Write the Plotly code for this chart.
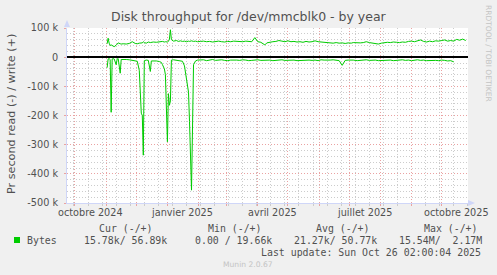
import pandas as pd
import plotly.graph_objects as go

# ---------------- data (daily averages, values in kB/s) ----------------
DAY0 = "2024-11-01"
days = [1, 2, 3, 4, 5, 6, 7, 8, 10, 11, 12, 14, 15, 17, 20, 23, 26, 29, 31, 33,
        35, 36, 37, 38, 40, 42, 44, 45, 47, 50, 53, 55, 56, 58, 59, 61, 62, 63, 64, 65,
        67, 70, 72, 74, 76, 78, 80, 82, 83, 85, 87, 89, 91,
        94, 97, 100, 103, 106, 109, 112, 115, 118, 121, 124, 127, 130, 133, 136, 139, 142, 145,
        148, 151, 154, 158,
        160, 163, 166, 169, 172, 175, 178, 181, 184, 187, 190, 193, 196, 199, 202, 205, 208,
        211, 214, 217, 220, 223, 226, 229, 232, 235, 238, 241, 244,
        246,
        250, 253, 256, 259, 262, 265, 268, 271, 274, 277, 280, 283, 286, 289, 292, 295, 298,
        301, 304, 307, 310, 313, 316, 319, 322, 325, 328, 331, 334, 337, 340, 343, 346, 349,
        352, 355, 358]

write_k = [46, 65, 48, 40, 42, 39, 37, 36, 41, 44, 49, 46, 45, 46, 45, 47, 53, 47, 46, 48,
           47, 49, 53, 50, 48, 52, 50, 51, 52, 51, 53, 52, 54, 52, 53, 52, 54, 62, 94, 60,
           55, 57, 54, 56, 54, 55, 53, 55, 54, 56, 54, 55, 53,
           54, 55, 53, 54, 52, 54, 55, 53, 52, 54, 53, 55, 54, 52, 53, 55, 54, 53,
           67, 53, 51, 42,
           49, 52, 53, 54, 57, 55, 53, 56, 53, 54, 52, 53, 51, 54, 52, 53, 56,
           53, 52, 50, 51, 49, 48, 50, 48, 49, 47, 49, 48,
           50,
           48, 49, 50, 53, 50, 48, 47, 45, 48, 50, 51, 50, 52, 51, 50, 52, 51,
           54, 55, 53, 56, 59, 54, 52, 55, 53, 56, 55, 57, 59, 55, 57, 55, 61,
           58, 62, 57]

read_k = [36, 6, 5, 8, 189, 6, 5, 6, 26, 6, 5, 55, 8, 7, 8, 9, 10, 13, 14, 45,
          192, 200, 336, 12, 10, 11, 49, 13, 12, 13, 15, 18, 25, 40, 60, 290, 125, 165, 150, 10,
          9, 11, 12, 13, 14, 30, 70, 120, 220, 456, 26, 13, 10,
          10, 9, 12, 10, 8, 11, 10, 9, 11, 12, 10, 9, 10, 11, 9, 10, 12, 11,
          10, 9, 11, 10,
          9, 10, 12, 11, 10, 9, 11, 10, 9, 10, 12, 11, 10,
          9, 10, 11, 10, 12, 9, 10, 11, 10, 9, 11, 12,
          28,
          11, 10, 9, 10, 12, 11, 10, 9, 11, 10, 10, 12, 11, 10, 9, 10, 12,
          11, 10, 9, 11, 10, 12, 10, 9, 11, 10, 12, 11, 10, 11, 12, 10, 11,
          13, 12, 16]

y_ticks = [100000, 0, -100000, -200000, -300000, -400000, -500000]
y_tick_text = ["100 k", "0", "-100 k", "-200 k", "-300 k", "-400 k", "-500 k"]
x_label_dates = ["2024-10-16", "2025-01-16", "2025-04-16", "2025-07-16", "2025-10-16"]
x_label_text = ["octobre 2024", "janvier 2025", "avril 2025", "juillet 2025", "octobre 2025"]

title = "Disk throughput for /dev/mmcblk0 - by year"
y_title = "Pr second read (-) / write (+)"
legend_headers = ["Cur (-/+)", "Min (-/+)", "Avg (-/+)", "Max (-/+)"]
legend_name = "Bytes"
legend_values = ["15.78k/ 56.89k", "0.00 / 19.66k", "21.27k/ 50.77k", "15.54M/  2.17M"]
last_update = "Last update: Sun Oct 26 02:00:04 2025"
munin_ver = "Munin 2.0.67"
watermark = "RRDTOOL / TOBI OETIKER"

# ---------------- geometry ----------------
W, H = 497, 275
L, R, T, B = 67, 29, 28, 72
PW, PH = W - L - R, H - T - B


def px(xp):
    return (xp - L) / PW


def py(yp):
    return (T + PH - yp) / PH


GREEN = "#00CC00"
FONT = "#505050"
AXIS = "#CFD6F8"
MGRID = "#EAA2A2"
GRID = "#CCCCCC"

x = pd.Timestamp(DAY0) + pd.to_timedelta(days, unit="D")
write_y = [v * 1000 for v in write_k]
read_y = [-v * 1000 for v in read_k]

fig = go.Figure()
fig.add_trace(go.Scatter(x=x, y=read_y, mode="lines",
                         line=dict(color=GREEN, width=1), hoverinfo="skip"))
fig.add_trace(go.Scatter(x=x, y=write_y, mode="lines",
                         line=dict(color=GREEN, width=1), hoverinfo="skip"))

fig.update_layout(
    width=W, height=H,
    margin=dict(l=L, r=R, t=T, b=B, pad=0),
    paper_bgcolor="#F0F0F0", plot_bgcolor="#FFFFFF",
    showlegend=False,
    font=dict(family="DejaVu Sans", size=9.7, color=FONT),
)

fig.update_xaxes(
    type="date",
    range=["2024-09-23 01:00", "2025-10-27 06:00"],
    tickmode="linear", tick0="2024-10-01", dtick="M1",
    showticklabels=False,
    showgrid=True, gridcolor=MGRID, griddash="1px,2px", gridwidth=1,
    ticks="outside", ticklen=2, tickcolor=MGRID,
    showline=True, linecolor=AXIS, linewidth=1,
    zeroline=False,
    minor=dict(tickmode="linear", tick0="2024-10-14", dtick=14 * 86400000,
               showgrid=True, gridcolor=GRID, griddash="1px,2px", gridwidth=1,
               ticks="outside", ticklen=2, tickcolor=GRID),
)

fig.update_yaxes(
    range=[-500000, 100000],
    tickmode="array", tickvals=y_ticks, ticktext=y_tick_text,
    tickfont=dict(size=9.7, color=FONT),
    showgrid=True, gridcolor=MGRID, griddash="1px,2px", gridwidth=1,
    ticks="outside", ticklen=2, tickcolor=MGRID, ticklabelstandoff=4,
    showline=True, linecolor=AXIS, linewidth=1,
    zeroline=True, zerolinecolor="#000000", zerolinewidth=1.5,
    minor=dict(tickmode="linear", tick0=0, dtick=20000,
               showgrid=True, gridcolor=GRID, griddash="1px,2px", gridwidth=1),
)

ann = []
# title
ann.append(dict(text=title, x=px(249), y=py(17), xref="paper", yref="paper",
                showarrow=False, xanchor="center", yanchor="middle",
                font=dict(family="DejaVu Sans", size=12.5, color=FONT)))
# y title
ann.append(dict(text=y_title, x=px(11), y=py(114), xref="paper", yref="paper",
                showarrow=False, xanchor="center", yanchor="middle", textangle=-90,
                font=dict(family="DejaVu Sans", size=11.2, color=FONT)))
# watermark
ann.append(dict(text=watermark, x=px(489), y=py(53), xref="paper", yref="paper",
                showarrow=False, xanchor="center", yanchor="middle", textangle=90,
                font=dict(family="DejaVu Sans", size=7.5, color="#C4C4C4")))
# x month labels
for d, t in zip(x_label_dates, x_label_text):
    ann.append(dict(text=t, x=d, y=py(212), xref="x", yref="paper",
                    showarrow=False, xanchor="center", yanchor="middle",
                    font=dict(family="DejaVu Sans", size=9.7, color=FONT)))
# legend
MONO = "DejaVu Sans Mono"
for xp_, t in zip([98, 207, 315, 423], legend_headers):
    ann.append(dict(text=t, x=px(xp_), y=py(228), xref="paper", yref="paper",
                    showarrow=False, xanchor="left", yanchor="middle",
                    font=dict(family=MONO, size=9.9, color=FONT)))
ann.append(dict(text=legend_name, x=px(26), y=py(240), xref="paper", yref="paper",
                showarrow=False, xanchor="left", yanchor="middle",
                font=dict(family=MONO, size=9.9, color=FONT)))
for xp_, t in zip([83, 194, 293, 398], legend_values):
    ann.append(dict(text=t.replace(" ", "&nbsp;"), x=px(xp_), y=py(240), xref="paper", yref="paper",
                    showarrow=False, xanchor="left", yanchor="middle",
                    font=dict(family=MONO, size=9.9, color=FONT)))
ann.append(dict(text=last_update, x=px(482), y=py(252), xref="paper", yref="paper",
                showarrow=False, xanchor="right", yanchor="middle",
                font=dict(family=MONO, size=9.9, color=FONT)))
ann.append(dict(text=munin_ver, x=px(248), y=py(264), xref="paper", yref="paper",
                showarrow=False, xanchor="center", yanchor="middle",
                font=dict(family="DejaVu Sans", size=7.6, color="#C4C4C4")))
for a in ann:
    a.setdefault("borderpad", 0)
fig.update_layout(annotations=ann)

shapes = []
# legend colour box
shapes.append(dict(type="rect", xref="paper", yref="paper",
                   x0=px(14), x1=px(20), y0=py(243), y1=py(237),
                   fillcolor=GREEN, line=dict(width=0)))
# axis arrows
ax0, ay_tip, ay_base = px(L), py(20), py(27)
hw = 3 / PW
shapes.append(dict(type="path", xref="paper", yref="paper",
                   path=f"M {ax0 - hw} {ay_base} L {ax0 + hw} {ay_base} L {ax0} {ay_tip} Z",
                   fillcolor=AXIS, line=dict(width=0)))
bx_base, bx_tip, by0 = px(468), px(475), py(T + PH)
hh = 3 / PH
shapes.append(dict(type="path", xref="paper", yref="paper",
                   path=f"M {bx_base} {by0 - hh} L {bx_base} {by0 + hh} L {bx_tip} {by0} Z",
                   fillcolor=AXIS, line=dict(width=0)))
fig.update_layout(shapes=shapes)

fig.write_html("out.html")
